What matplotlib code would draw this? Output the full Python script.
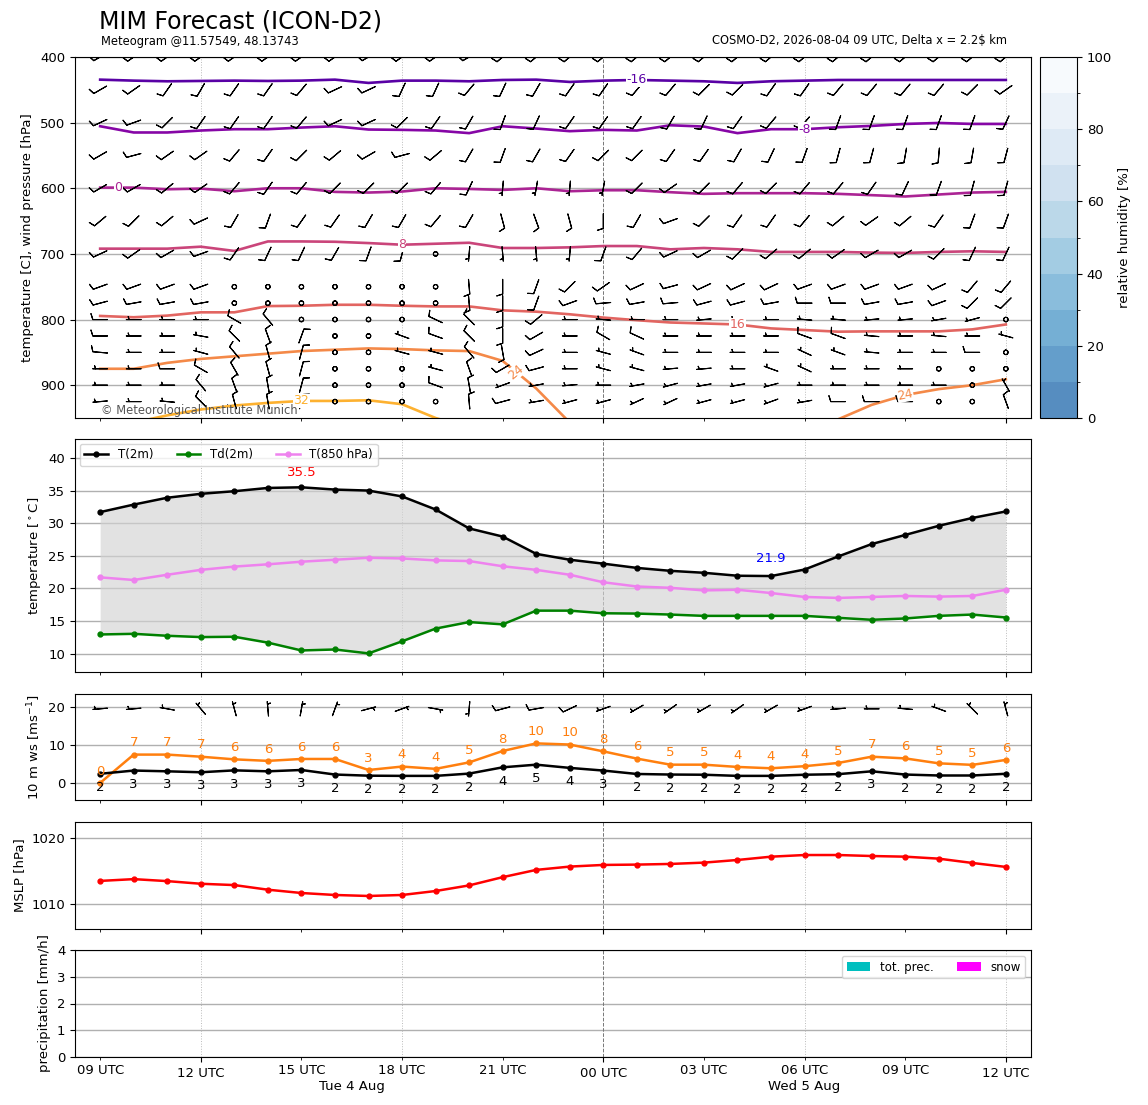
import numpy as np
import pandas as pd
import matplotlib
matplotlib.use('Agg')
import matplotlib.pyplot as plt
import matplotlib.dates as mdates
import matplotlib.transforms as mtransforms
from matplotlib.ticker import FuncFormatter
from matplotlib.colors import BoundaryNorm, ListedColormap
from matplotlib.cm import ScalarMappable

# ---- data ---------------------------------------------------------------
times = pd.date_range('2026-08-04 09:00', periods=28, freq='h')

t2m = [31.7, 32.85, 33.9, 34.5, 34.9, 35.4, 35.5, 35.15, 35.0, 34.1, 32.1, 29.2, 27.95, 25.3,
       24.4, 23.8, 23.15, 22.7, 22.4, 21.95, 21.9, 22.9, 24.9, 26.8, 28.2, 29.6, 30.8, 31.8]
td2m = [12.95, 13.05, 12.75, 12.55, 12.6, 11.7, 10.5, 10.65, 10.05, 11.9, 13.85, 14.85, 14.5, 16.6,
        16.6, 16.2, 16.15, 16.0, 15.8, 15.8, 15.8, 15.8, 15.5, 15.2, 15.4, 15.8, 16.0, 15.55]
t850 = [21.7, 21.3, 22.1, 22.85, 23.35, 23.7, 24.1, 24.4, 24.7, 24.6, 24.3, 24.2, 23.4, 22.85,
        22.1, 20.95, 20.3, 20.1, 19.7, 19.8, 19.3, 18.7, 18.55, 18.7, 18.85, 18.75, 18.85, 19.8]

ws10 = [2.4, 3.25, 3.05, 2.8, 3.3, 3.05, 3.4, 2.2, 1.9, 1.85, 1.85, 2.45, 4.1, 4.8,
        3.95, 3.25, 2.35, 2.2, 2.15, 1.85, 1.85, 2.15, 2.3, 3.05, 2.2, 1.95, 1.95, 2.4]
gust10 = [0.0, 7.45, 7.45, 6.9, 6.2, 5.8, 6.3, 6.3, 3.4, 4.3, 3.7, 5.4, 8.4, 10.4,
          10.1, 8.3, 6.4, 4.8, 4.8, 4.2, 3.85, 4.4, 5.25, 6.9, 6.45, 5.15, 4.75, 6.05]
dir10 = [265, 265, 280, 320, 345, 355, 10, 20, 75, 70, 100, 185, 255, 260,
         245, 250, 240, 235, 240, 235, 240, 250, 265, 270, 275, 290, 315, 345]

mslp = [1013.53, 1013.8, 1013.5, 1013.1, 1012.9, 1012.2, 1011.7, 1011.4, 1011.25, 1011.4,
        1012.0, 1012.85, 1014.1, 1015.2, 1015.7, 1015.95, 1016.0, 1016.1, 1016.3, 1016.7,
        1017.2, 1017.45, 1017.45, 1017.3, 1017.2, 1016.9, 1016.25, 1015.65]
tot_prec = [0.0] * 28
snow = [0.0] * 28

# upper air wind: direction (deg, from) and speed (barb units) per level
levels = [400, 450, 500, 550, 600, 650, 700, 750, 775, 800, 825, 850, 875, 900, 925]
wind_dir = [
    [240, 235, 235, 235, 235, 235, 235, 235, 240, 235, 235, 240, 230, 230, 230, 230, 230, 230, 230, 230, 230, 230, 230, 230, 230, 230, 230, 230],
    [240, 235, 215, 210, 215, 215, 220, 245, 245, 205, 205, 220, 205, 210, 215, 215, 220, 220, 225, 225, 215, 215, 220, 220, 220, 220, 225, 235],
    [245, 250, 225, 215, 215, 215, 220, 245, 245, 225, 215, 210, 200, 205, 215, 215, 215, 210, 205, 215, 220, 220, 200, 200, 200, 200, 200, 205],
    [240, 255, 235, 235, 220, 215, 225, 230, 240, 255, 230, 210, 200, 210, 215, 225, 225, 215, 215, 210, 205, 200, 195, 195, 190, 185, 190, 195],
    [240, 240, 230, 235, 220, 215, 220, 225, 225, 225, 220, 205, 185, 190, 185, 190, 225, 235, 225, 220, 225, 220, 220, 215, 205, 200, 195, 195],
    [230, 225, 230, 245, 210, 200, 215, 215, 210, 210, 220, 210, 165, 160, 165, 180, 210, 250, 225, 215, 215, 220, 230, 235, 230, 215, 200, 200],
    [245, 235, 240, 250, 215, 205, 205, 210, 200, 195, 0, 185, 175, 175, 185, 200, 220, 245, 240, 225, 230, 230, 235, 240, 240, 225, 205, 205],
    [250, 250, 250, 250, 0, 0, 0, 0, 0, 0, 0, 175, 180, 200, 225, 235, 245, 255, 245, 245, 245, 250, 250, 250, 250, 245, 220, 220],
    [255, 260, 260, 260, 0, 0, 0, 0, 0, 0, 0, 175, 180, 200, 250, 265, 260, 265, 255, 255, 260, 270, 270, 260, 260, 250, 225, 225],
    [270, 270, 270, 270, 300, 320, 0, 0, 0, 0, 295, 315, 180, 230, 270, 275, 270, 270, 265, 270, 270, 275, 275, 265, 265, 260, 255, 0],
    [270, 270, 270, 280, 315, 340, 20, 0, 0, 290, 290, 315, 180, 240, 270, 300, 295, 270, 270, 270, 270, 290, 290, 275, 270, 275, 270, 285],
    [275, 270, 270, 285, 320, 345, 15, 0, 0, 285, 285, 320, 170, 245, 270, 285, 290, 270, 270, 270, 270, 295, 290, 275, 270, 270, 270, 0],
    [270, 270, 270, 300, 330, 345, 15, 0, 0, 0, 285, 340, 240, 255, 270, 285, 285, 265, 265, 270, 290, 295, 270, 270, 270, 0, 0, 0],
    [270, 270, 270, 320, 340, 350, 15, 0, 0, 0, 290, 350, 250, 260, 265, 270, 260, 255, 260, 260, 255, 270, 270, 270, 270, 270, 0, 330],
    [265, 270, 275, 315, 345, 350, 15, 0, 0, 0, 0, 355, 255, 260, 255, 255, 245, 245, 255, 255, 250, 260, 270, 270, 270, 0, 0, 340],
]
wind_spd = [
    [10] * 28,
    [10] * 28,
    [10] * 28,
    [10] * 28,
    [10, 10, 10, 10, 10, 10, 10, 10, 10, 10, 10, 10, 5, 5, 5, 5, 10, 10, 10, 10, 10, 10, 10, 10, 10, 10, 10, 10],
    [10] * 28,
    [10, 10, 10, 10, 10, 10, 10, 10, 10, 10, 0, 5, 5, 5, 5, 10, 10, 10, 10, 10, 10, 10, 10, 10, 10, 10, 10, 10],
    [10, 10, 10, 10, 0, 0, 0, 0, 0, 0, 0, 10, 10, 10, 10, 10, 10, 10, 10, 10, 10, 10, 10, 10, 10, 10, 10, 10],
    [10, 10, 10, 10, 0, 0, 0, 0, 0, 0, 0, 10, 10, 10, 10, 10, 10, 10, 10, 10, 10, 10, 10, 10, 10, 10, 10, 10],
    [10, 5, 5, 5, 10, 10, 0, 0, 0, 0, 10, 10, 10, 10, 5, 5, 5, 5, 5, 5, 5, 5, 5, 5, 5, 5, 5, 0],
    [10, 5, 5, 5, 10, 10, 10, 0, 0, 5, 10, 10, 10, 10, 5, 10, 10, 5, 5, 5, 5, 10, 10, 5, 5, 5, 5, 5],
    [10, 5, 5, 5, 10, 10, 10, 0, 0, 5, 5, 10, 10, 10, 5, 5, 5, 5, 5, 5, 5, 5, 5, 5, 5, 5, 10, 0],
    [5, 5, 10, 10, 10, 10, 10, 0, 0, 0, 5, 10, 10, 10, 5, 5, 5, 5, 5, 5, 5, 5, 5, 5, 5, 0, 0, 0],
    [5, 5, 5, 10, 10, 10, 10, 0, 0, 0, 10, 10, 5, 5, 5, 5, 5, 5, 5, 5, 5, 5, 5, 5, 5, 5, 0, 5],
    [5, 5, 5, 10, 10, 10, 10, 0, 0, 0, 0, 10, 10, 5, 5, 5, 5, 5, 5, 5, 5, 5, 10, 10, 10, 0, 0, 10],
]

# isotherms: pressure [hPa] of each isotherm at every hour
iso_m16 = [434.5, 436, 437, 436.5, 436, 436.5, 436, 434.5, 439.5, 436, 436, 437, 435, 434.5,
           438, 436, 435, 436, 437, 439.5, 437, 436, 435, 435, 435, 435, 435, 435]
iso_m8 = [505.5, 515, 515, 512, 510, 510, 507.5, 505.5, 510.5, 511, 512, 516, 505.5, 509,
          513, 511, 512, 504, 506, 516, 510, 510, 507, 505, 502, 500.5, 502, 502]
iso_0 = [599, 599, 601.5, 600.5, 604.5, 600, 600, 605.5, 606.5, 605, 600, 601, 602.5, 600,
         604.5, 603, 603, 606, 608.5, 607.5, 607.5, 607.5, 608.5, 610.5, 612.5, 609.5, 606.5, 605.5]
iso_8 = [692, 692, 692, 689, 695.5, 681, 681, 681.5, 683.5, 686, 684.5, 683, 691, 691,
         690, 688, 688, 693, 691, 693, 697, 697, 697, 698, 698.5, 697, 696, 697]
iso_16 = [794.5, 796.5, 794, 789, 789, 779.5, 779, 777.5, 777.5, 779, 780, 780, 786, 788,
          792, 797, 801, 804.5, 806, 807.5, 813.5, 816, 818.5, 818, 818, 818, 815, 807.5]
iso_24 = [875, 875, 866, 860, 856, 852, 848, 846, 844, 845, 847, 848, 863, 905,
          957, 968, 975, 980, 980, 978, 972, 962, 952, 930, 915, 906, 900, 891]
iso_32 = [965, 957, 946, 937, 931, 927, 924, 924, 923, 929, 950, 965, 975, 985,
          990, 995, 995, 995, 995, 995, 995, 995, 995, 990, 985, 980, 975, 970]
iso_values = [-16, -8, 0, 8, 16, 24, 32]
iso_lines = [iso_m16, iso_m8, iso_0, iso_8, iso_16, iso_24, iso_32]
# where the inline labels sit (hours after first time, rotation)
iso_labels = [(-16, 16.0, 0), (-8, 21.0, 0), (0, 0.55, 0), (8, 9.0, 0), (16, 19.0, 0),
              (24, 12.4, 40), (24, 24.0, 12), (32, 6.0, 0)]

# ---- figure ---------------------------------------------------------------
W, H = 1148, 1105
fig = plt.figure(figsize=(W / 100, H / 100), dpi=100)


def box(l, t, r, b):
    return [l / W, 1 - b / H, (r - l) / W, (b - t) / H]


ax_up = fig.add_axes(box(75, 57, 1031, 418))
cax = fig.add_axes(box(1040, 57, 1077, 418))
ax_t = fig.add_axes(box(75, 439, 1031, 672), sharex=ax_up)
ax_w = fig.add_axes(box(75, 694, 1031, 800), sharex=ax_up)
ax_p = fig.add_axes(box(75, 822, 1031, 929), sharex=ax_up)
ax_r = fig.add_axes(box(75, 950, 1031, 1057), sharex=ax_up)
axes = [ax_up, ax_t, ax_w, ax_p, ax_r]

FS = 9.5
GRID = '#b0b0b0'
BARB_LEN = 4.6
xnum = mdates.date2num(times)
hours = np.arange(len(times))

for ax in axes:
    ax.set_axisbelow(True)
    ax.grid(axis='y', color=GRID, lw=1)
    for t in times:
        if t.hour == 0:
            ax.axvline(t, color='#777777', ls='--', lw=0.7, zorder=1)
        elif t.hour % 6 == 0:
            ax.axvline(t, color='#bbbbbb', ls=':', lw=0.7, zorder=1)
    ax.tick_params(labelsize=FS, which='both')


def iso_color(val):
    return plt.get_cmap('plasma')((val + 27.5) / 72)


def barb_uv(dirs, spds):
    # meteorological direction (blowing from) -> u, v
    d = np.deg2rad(np.asarray(dirs, dtype=float))
    s = np.asarray(spds, dtype=float)
    return -s * np.sin(d), -s * np.cos(d)


def up(p):
    # the upper panel is drawn against -p, so the axis is not inverted and
    # the barbs keep north pointing up on the page
    return -np.asarray(p, dtype=float)


# ---- upper air panel ------------------------------------------------------
for val, line in zip(iso_values, iso_lines):
    ax_up.plot(times, up(line), color=iso_color(val), lw=1.9, zorder=2)
for val, hpos, rot in iso_labels:
    line = iso_lines[iso_values.index(val)]
    p = np.interp(hpos, hours, line)
    xt = times[0] + pd.Timedelta(hours=hpos)
    ax_up.text(xt, up(p), f'{val}', color=iso_color(val), fontsize=9,
               ha='center', va='center', rotation=rot, zorder=5,
               bbox=dict(facecolor='white', edgecolor='none', pad=0.3))

for lev, dirs, spds in zip(levels, wind_dir, wind_spd):
    u, v = barb_uv(dirs, spds)
    ax_up.barbs(xnum, up(np.full(len(xnum), lev)), u, v,
                length=BARB_LEN, pivot='middle', linewidth=0.8, zorder=4)

ax_up.set_ylim(up(950), up(400))
ax_up.set_yticks(up([400, 500, 600, 700, 800, 900]))
ax_up.yaxis.set_major_formatter(FuncFormatter(lambda y, pos: f'{-y:.0f}'))
ax_up.set_ylabel('temperature [C], wind pressure [hPa]', fontsize=FS)
ax_up.text(0.027, 0.022, '\u00a9 Meteorological Institute Munich', transform=ax_up.transAxes,
           fontsize=8.3, color='#555555', va='center', ha='left', zorder=5)

# relative humidity colour scale
rh_bounds = np.arange(0, 101, 10)
base = plt.get_cmap('Blues')(np.linspace(0.8, 0.0, 10))
alpha = 0.72
blend = base.copy()
blend[:, :3] = alpha * base[:, :3] + (1 - alpha) * 0.97
sm = ScalarMappable(norm=BoundaryNorm(rh_bounds, 10), cmap=ListedColormap(blend))
cb = fig.colorbar(sm, cax=cax, ticks=[0, 20, 40, 60, 80, 100])
cb.set_label('relative humidity [%]', fontsize=FS)
cax.tick_params(labelsize=FS)

# ---- 2 m temperature panel --------------------------------------------------
ax_t.fill_between(times, t2m, td2m, color='lightgray', alpha=0.65, lw=0, zorder=1.5)
ax_t.plot(times, t2m, color='black', marker='o', ms=3.5, lw=1.8, label='T(2m)')
ax_t.plot(times, td2m, color='green', marker='o', ms=3.5, lw=1.8, label='Td(2m)')
ax_t.plot(times, t850, color='violet', marker='o', ms=3.5, lw=1.8, label='T(850 hPa)')
imax = int(np.argmax(t2m))
imin = int(np.argmin(t2m))
ax_t.text(times[imax], t2m[imax] + 1.3, f'{t2m[imax]:.1f}', color='red', fontsize=FS,
          ha='center', va='bottom')
ax_t.text(times[imin], t2m[imin] + 1.7, f'{t2m[imin]:.1f}', color='blue', fontsize=FS,
          ha='center', va='bottom')
ax_t.set_ylim(7.2, 42.9)
ax_t.set_yticks(range(10, 41, 5))
ax_t.set_ylabel(r'temperature [$^\circ$C]', fontsize=FS)
ax_t.legend(loc='upper left', ncol=3, fontsize=8.5, borderaxespad=0.4)

# ---- 10 m wind panel ------------------------------------------------------
ax_w.plot(times, gust10, color='tab:orange', marker='o', ms=3.5, lw=1.8)
ax_w.plot(times, ws10, color='black', marker='o', ms=3.5, lw=1.8)
for t, g, w in zip(times, gust10, ws10):
    ax_w.text(t, g + 3.1, f'{round(g)}', color='tab:orange', fontsize=FS, ha='center', va='center')
    ax_w.text(t, w - 3.6, f'{round(w)}', color='black', fontsize=FS, ha='center', va='center')
u10, v10 = barb_uv(dir10, np.array(ws10) * 1.944)
ax_w.barbs(xnum, np.full(len(times), 19.5), u10, v10,
           length=BARB_LEN, pivot='middle', linewidth=0.8)
ax_w.set_ylim(-4.5, 23.4)
ax_w.set_yticks([0, 10, 20])
ax_w.set_ylabel(r'10 m ws [ms$^{-1}$]', fontsize=FS)

# ---- MSLP panel -------------------------------------------------------------
ax_p.plot(times, mslp, color='red', marker='o', ms=3.5, lw=1.8)
ax_p.set_ylim(min(mslp) - 5, max(mslp) + 5)
ax_p.set_yticks([1010, 1020])
ax_p.set_ylabel('MSLP [hPa]', fontsize=FS)

# ---- precipitation panel ------------------------------------------------------
bw = 0.8 / 24
ax_r.bar(times, tot_prec, width=bw, color='c', label='tot. prec.')
ax_r.bar(times, snow, width=bw, color='magenta', label='snow')
ax_r.set_ylim(0, 4)
ax_r.set_yticks(range(0, 5))
ax_r.set_ylabel('precipitation [mm/h]', fontsize=FS)
ax_r.legend(loc='upper right', ncol=2, fontsize=8.5)

# ---- time axis ----------------------------------------------------------------
ax_up.set_xlim(times[0] - pd.Timedelta(minutes=45), times[-1] + pd.Timedelta(minutes=45))
ax_r.xaxis.set_major_locator(mdates.HourLocator(byhour=[0, 12]))
ax_r.xaxis.set_minor_locator(mdates.HourLocator(byhour=range(0, 24, 3)))
ax_r.xaxis.set_major_formatter(mdates.DateFormatter('%H UTC'))
ax_r.xaxis.set_minor_formatter(mdates.DateFormatter('%H UTC'))
for ax in axes[:-1]:
    ax.tick_params(labelbottom=False, which='both')

trans = mtransforms.blended_transform_factory(ax_r.transData, ax_r.transAxes)
for day in times.normalize().unique():
    start = max(day, times[0])
    end = min(day + pd.Timedelta(days=1), times[-1])
    mid = start + (end - start) / 2
    ax_r.text(mid, -0.28, f'{day:%a} {day.day} {day:%b}', transform=trans,
              ha='center', va='center', fontsize=FS)

# ---- titles -------------------------------------------------------------------
fig.text(99 / W, 1 - 21 / H, 'MIM Forecast (ICON-D2)', fontsize=17, ha='left', va='center')
fig.text(101 / W, 1 - 41 / H, 'Meteogram @11.57549, 48.13743', fontsize=8.3,
         ha='left', va='center')
fig.text(1007 / W, 1 - 41 / H, 'COSMO-D2, 2026-08-04 09 UTC, Delta x = 2.2$ km', fontsize=8.3,
         ha='right', va='center')

fig.savefig('out.png', dpi=100)
